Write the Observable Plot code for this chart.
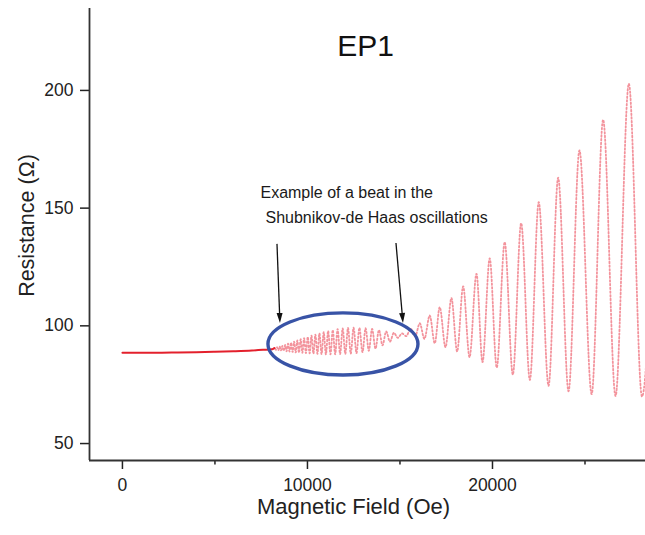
<!DOCTYPE html>
<html>
<head>
<meta charset="utf-8">
<script src="https://cdn.jsdelivr.net/npm/d3@7"></script>
<script src="https://cdn.jsdelivr.net/npm/@observablehq/plot@0.6"></script>
<style>
  body { margin: 0; background: #fff; }
  #chart svg { display: block; }
</style>
</head>
<body>
<div id="chart"></div>
<script>
// Magnetoresistance of sample EP1: field sweep (Oe) and resistance (Ω).
// Low field: smooth background; then the sweep is listed at the successive
// maxima and minima of the Shubnikov-de Haas oscillations.
const fieldOe = [
  0, 1000, 2000, 3000, 4000, 5000, 6000, 7000, 7600, 8100,
  8222, 8290, 8358, 8428, 8498, 8570, 8644, 8718, 8794, 8871,
  8950, 9030, 9112, 9195, 9279, 9365, 9453, 9542, 9633, 9726,
  9820, 9917, 10015, 10116, 10218, 10322, 10429, 10537, 10648, 10762,
  10878, 10996, 11117, 11242, 11368, 11497, 11629, 11765, 11903, 12045,
  12191, 12340, 12492, 12649, 12809, 12974, 13142, 13316, 13494, 13677,
  13864, 14057, 14255, 14459, 14669, 14886, 15108, 15338, 15574, 15820,
  16070, 16320, 16610, 16880, 17150, 17460, 17780, 18090, 18415, 18760,
  19135, 19460, 19850, 20230, 20660, 21100, 21550, 22020, 22500, 23030,
  23550, 24110, 24700, 25360, 25980, 26650, 27370, 28080, 28935
];
const resistanceOhm = [
  88.6, 88.6, 88.6, 88.7, 88.8, 89.0, 89.2, 89.5, 89.8, 90.1,
  90.6, 89.8, 90.9, 89.7, 91.2, 89.6, 91.5, 89.4, 91.9, 89.2,
  92.4, 89.1, 92.8, 88.9, 93.3, 88.7, 93.8, 88.6, 94.3, 88.5,
  94.8, 88.4, 95.3, 88.3, 95.8, 88.2, 96.3, 88.1, 96.8, 88.0,
  97.3, 87.9, 97.8, 87.9, 98.2, 87.9, 98.6, 88.0, 98.9, 88.1,
  99.1, 88.2, 99.2, 88.4, 99.1, 88.8, 99.0, 89.4, 98.7, 90.3,
  98.2, 91.7, 97.6, 93.3, 97.0, 94.9, 96.8, 95.6, 98.8, 95.5,
  101.1, 94.5, 104.4, 92.6, 107.9, 90.9, 111.8, 89.1, 116.8, 86.7,
  122.1, 84.6, 128.6, 82.3, 135.5, 79.3, 143.6, 77.0, 152.5, 74.5,
  162.9, 72.2, 174.5, 71.0, 187.5, 70.2, 202.8, 70.0, 218.0
];

// Axes
const xDomain = [-1780, 28270];
const yDomain = [42.8, 234.8];
const xTicks = [0, 10000, 20000];
const xMinorTicks = [5000, 15000, 25000];
const yTicks = [50, 100, 150, 200];
const chartTitle = "EP1";
const xTitle = "Magnetic Field (Oe)";
const yTitle = "Resistance (\u03A9)";

// Annotation: note text, two arrows and the outline around the beat
const noteLines = ["Example of a beat in the", "Shubnikov-de Haas oscillations"];
const noteAt = [{B: 7460, R: 154.1}, {B: 7730, R: 143.5}];
const arrows = [
  {B1: 8380, R1: 134.6, B2: 8540, R2: 101.0},
  {B1: 14811, R1: 135.0, B2: 15189, R2: 101.0}
];
const beatOutline = {B: 11946, R: 92.1, dB: 4054, dR: 13.2};

const sweep = fieldOe.map((B, i) => ({B, R: resistanceOhm[i]}));
const notes = noteLines.map((text, i) => ({text, ...noteAt[i]}));

// Custom mark: blue outline and black arrows placed through the scales
function annotationShapes(index, {x, y}) {
  const g = d3.create("svg:g");
  const cx = x(beatOutline.B), cy = y(beatOutline.R);
  g.append("ellipse")
    .attr("cx", cx).attr("cy", cy)
    .attr("rx", Math.abs(x(beatOutline.B + beatOutline.dB) - cx))
    .attr("ry", Math.abs(y(beatOutline.R + beatOutline.dR) - cy))
    .attr("fill", "none").attr("stroke", "#3853a6").attr("stroke-width", 3.4);
  for (const a of arrows) {
    const x1 = x(a.B1), y1 = y(a.R1), x2 = x(a.B2), y2 = y(a.R2);
    const len = Math.hypot(x2 - x1, y2 - y1), ux = (x2 - x1) / len, uy = (y2 - y1) / len;
    const head = 10, half = 3;
    const bx = x2 - ux * head, by = y2 - uy * head;
    g.append("line").attr("x1", x1).attr("y1", y1).attr("x2", bx).attr("y2", by)
      .attr("stroke", "#111").attr("stroke-width", 1.3);
    g.append("path")
      .attr("d", `M${x2},${y2}L${bx - uy * half},${by + ux * half}L${bx + uy * half},${by - ux * half}Z`)
      .attr("fill", "#111");
  }
  return g.node();
}

const font = "'Liberation Sans', Arial, Helvetica, sans-serif";

const chart = Plot.plot({
  width: 645,
  height: 535,
  marginLeft: 89,
  marginRight: 0,
  marginTop: 8,
  marginBottom: 75,
  style: {fontFamily: font, background: "#fff", color: "#222", overflow: "visible"},
  x: {domain: xDomain},
  y: {domain: yDomain},
  marks: [
    Plot.axisY(yTicks, {tickSize: 9, tickPadding: 7, fontSize: 17.5, strokeWidth: 1.5, label: null, fill: "#222"}),
    Plot.axisX(xTicks, {tickSize: 9, tickPadding: 9, fontSize: 17.5, strokeWidth: 1.5, label: null, fill: "#222", tickFormat: d3.format("d")}),
    Plot.axisX(xMinorTicks, {tickSize: 4.5, tickFormat: () => "", strokeWidth: 1.5, label: null}),
    Plot.ruleX([xDomain[0]], {stroke: "#333", strokeWidth: 1.8}),
    Plot.ruleY([yDomain[0]], {stroke: "#333", strokeWidth: 1.8}),
    // smooth low-field background
    Plot.line(sweep, {
      filter: d => d.B <= 8222, x: "B", y: "R", curve: "monotone-x",
      stroke: "#e3202c", strokeWidth: 2
    }),
    // oscillating part, drawn as the dotted trace of the sweep
    Plot.line(sweep, {
      filter: d => d.B >= 8100, x: "B", y: "R", curve: "monotone-x", clip: true,
      stroke: "#e8283a", strokeOpacity: 0.5, strokeWidth: 1.8, strokeDasharray: "1.5,2.2"
    }),
    annotationShapes,
    Plot.text(notes, {
      x: "B", y: "R", text: "text", textAnchor: "start", lineAnchor: "bottom",
      fontSize: 16, fill: "#1a1a1a"
    }),
    Plot.text([chartTitle], {frameAnchor: "top", lineAnchor: "bottom", dy: 47, dx: -2, fontSize: 30, fill: "#111"}),
    Plot.text([xTitle], {frameAnchor: "bottom", lineAnchor: "bottom", dy: 53, dx: -14, fontSize: 22, fill: "#222"}),
    Plot.text([yTitle], {frameAnchor: "left", textAnchor: "middle", lineAnchor: "middle", rotate: -90, dx: -62, dy: -9, fontSize: 21.5, fill: "#222"})
  ]
});

document.getElementById("chart").append(chart);
</script>
</body>
</html>
